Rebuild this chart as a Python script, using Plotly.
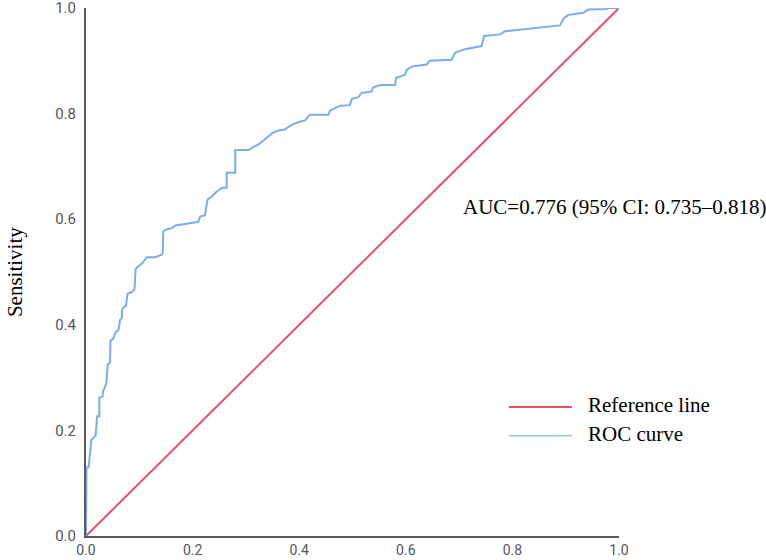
import plotly.graph_objects as go

# ROC curve (1 - specificity, sensitivity)
fpr = [0.000, 0.001, 0.005, 0.010, 0.018, 0.021, 0.025, 0.025, 0.031, 0.032,
       0.038, 0.041, 0.045, 0.046, 0.051, 0.056, 0.061, 0.064, 0.067, 0.068,
       0.075, 0.078, 0.086, 0.091, 0.093, 0.098, 0.106, 0.114, 0.130, 0.142,
       0.144, 0.145, 0.152, 0.161, 0.168, 0.211, 0.214, 0.223, 0.228, 0.236,
       0.245, 0.255, 0.264, 0.264, 0.280, 0.280, 0.305, 0.314, 0.323, 0.336,
       0.351, 0.361, 0.373, 0.377, 0.389, 0.402, 0.411, 0.420, 0.455, 0.458,
       0.477, 0.495, 0.499, 0.511, 0.517, 0.536, 0.539, 0.552, 0.580, 0.582,
       0.598, 0.602, 0.611, 0.639, 0.645, 0.686, 0.692, 0.711, 0.742, 0.747,
       0.777, 0.786, 0.836, 0.889, 0.897, 0.905, 0.933, 0.942, 0.977, 0.980,
       1.000]
tpr = [0.000, 0.130, 0.130, 0.182, 0.190, 0.227, 0.227, 0.262, 0.264, 0.274,
       0.288, 0.325, 0.328, 0.370, 0.374, 0.387, 0.390, 0.410, 0.412, 0.430,
       0.436, 0.459, 0.462, 0.467, 0.505, 0.511, 0.517, 0.528, 0.528, 0.533,
       0.536, 0.577, 0.581, 0.583, 0.588, 0.595, 0.605, 0.607, 0.637, 0.643,
       0.652, 0.659, 0.660, 0.688, 0.688, 0.731, 0.731, 0.737, 0.741, 0.752,
       0.764, 0.768, 0.770, 0.773, 0.780, 0.785, 0.787, 0.798, 0.798, 0.806,
       0.815, 0.816, 0.828, 0.831, 0.839, 0.842, 0.850, 0.854, 0.854, 0.868,
       0.873, 0.883, 0.889, 0.893, 0.900, 0.902, 0.915, 0.922, 0.928, 0.947,
       0.950, 0.956, 0.962, 0.967, 0.981, 0.987, 0.991, 0.997, 0.998, 1.000,
       1.000]

ref_x = [0.0, 1.0]
ref_y = [0.0, 1.0]

tick_vals = [0.0, 0.2, 0.4, 0.6, 0.8, 1.0]
tick_text = ["0.0", "0.2", "0.4", "0.6", "0.8", "1.0"]

legend_names = ["Reference line", "ROC curve"]
legend_colors = ["#e8141e", "#9cc2ee"]
auc_text = "AUC=0.776 (95% CI: 0.735–0.818)"

SERIF = "Liberation Serif, Times New Roman, serif"

fig = go.Figure()
fig.add_trace(go.Scatter(x=ref_x, y=ref_y, mode="lines", name=legend_names[0],
                         line=dict(color="#e4506f", width=2), cliponaxis=False,
                         showlegend=False))
fig.add_trace(go.Scatter(x=fpr, y=tpr, mode="lines", name=legend_names[1],
                         line=dict(color="#7aadef", width=2), cliponaxis=False,
                         showlegend=False))

axis_common = dict(range=[0, 1], showgrid=False, zeroline=False, showline=True,
                   linecolor="#5a5a5a", linewidth=2, ticks="",
                   tickvals=tick_vals, ticktext=tick_text,
                   ticklabeloverflow="allow", automargin=False,
                   layer="below traces")
fig.update_xaxes(**axis_common, ticklabelstandoff=0,
                 tickfont=dict(family="Roboto", size=14, color="#555555"))
fig.update_yaxes(**axis_common, ticklabelstandoff=5,
                 tickfont=dict(family="Roboto", size=15, color="#555555"))

# Y axis title
fig.add_annotation(text="Sensitivity", xref="paper", yref="paper", x=-0.133, y=0.50,
                   xanchor="center", yanchor="middle",
                   textangle=-90, showarrow=False,
                   font=dict(family=SERIF, size=21, color="#000000"))
# AUC text
fig.add_annotation(text=auc_text, xref="paper", yref="paper", x=0.703, y=0.624,
                   xanchor="left", yanchor="middle", showarrow=False,
                   font=dict(family=SERIF, size=21, color="#000000"))

# Manual legend
leg_y = [0.2444, 0.1898]
for name, col, yy in zip(legend_names, legend_colors, leg_y):
    fig.add_shape(type="line", xref="paper", yref="paper", x0=0.7936, x1=0.9118,
                  y0=yy, y1=yy, line=dict(color=col, width=1.5))
    fig.add_annotation(text=name, xref="paper", yref="paper", x=0.938, y=yy + 0.004,
                       xanchor="left", yanchor="middle", showarrow=False,
                       font=dict(family=SERIF, size=21, color="#000000"))

fig.update_layout(width=766, height=560, margin=dict(l=86, r=147, t=8, b=24),
                  paper_bgcolor="white", plot_bgcolor="white", showlegend=False)

fig.write_html("out.html")
